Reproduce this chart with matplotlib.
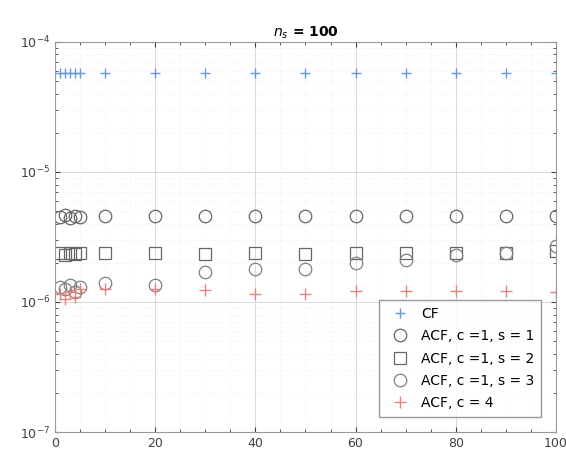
import numpy as np
import matplotlib
matplotlib.use("Agg")
import matplotlib.pyplot as plt
from matplotlib.ticker import MultipleLocator, LogLocator

# sample sizes
x = [1, 2, 3, 4, 5, 10, 20, 30, 40, 50, 60, 70, 80, 90, 100]

cf = [5.8e-5, 5.8e-5, 5.8e-5, 5.8e-5, 5.8e-5, 5.8e-5, 5.8e-5, 5.8e-5,
      5.8e-5, 5.8e-5, 5.8e-5, 5.8e-5, 5.8e-5, 5.8e-5, 5.8e-5]
acf_s1 = [4.5e-6, 4.7e-6, 4.4e-6, 4.6e-6, 4.5e-6, 4.6e-6, 4.6e-6, 4.6e-6,
          4.6e-6, 4.6e-6, 4.6e-6, 4.6e-6, 4.6e-6, 4.6e-6, 4.6e-6]
acf_s2 = [2.4e-6, 2.3e-6, 2.4e-6, 2.35e-6, 2.4e-6, 2.4e-6, 2.4e-6, 2.35e-6,
          2.4e-6, 2.35e-6, 2.4e-6, 2.4e-6, 2.4e-6, 2.4e-6, 2.45e-6]
acf_s3 = [1.3e-6, 1.25e-6, 1.35e-6, 1.2e-6, 1.3e-6, 1.4e-6, 1.35e-6, 1.7e-6,
          1.8e-6, 1.8e-6, 2.0e-6, 2.1e-6, 2.3e-6, 2.4e-6, 2.7e-6]
acf_c4 = [1.15e-6, 1.05e-6, 1.2e-6, 1.1e-6, 1.25e-6, 1.25e-6, 1.25e-6, 1.24e-6,
          1.15e-6, 1.15e-6, 1.22e-6, 1.22e-6, 1.22e-6, 1.22e-6, 1.2e-6]

labels = ["CF", "ACF, c =1, s = 1", "ACF, c =1, s = 2",
          "ACF, c =1, s = 3", "ACF, c = 4"]

fig = plt.figure(figsize=(5.66, 4.59), dpi=100)
ax = fig.add_axes([0.0972, 0.0588, 0.885, 0.85])

ax.plot(x, cf, "+", color=(0.4, 0.6, 0.85), ms=7, mew=1.0, ls="none", label=labels[0])
ax.plot(x, acf_s1, "o", mfc="none", mec="0.4", ms=9, mew=0.9, ls="none", label=labels[1])
ax.plot(x, acf_s2, "s", mfc="none", mec="0.4", ms=8, mew=0.9, ls="none", label=labels[2])
ax.plot(x, acf_s3, "o", mfc="none", mec="0.5", ms=9, mew=0.9, ls="none", label=labels[3])
ax.plot(x, acf_c4, "+", color=(0.92, 0.5, 0.5), ms=8, mew=1.0, ls="none", label=labels[4])

ax.set_yscale("log")
ax.set_xlim(0, 100)
ax.set_ylim(1e-7, 1e-4)
ax.xaxis.set_major_locator(MultipleLocator(20))
ax.xaxis.set_minor_locator(MultipleLocator(5))
ax.yaxis.set_major_locator(LogLocator(base=10, numticks=10))
ax.yaxis.set_minor_locator(LogLocator(base=10, subs=np.arange(2, 10), numticks=10))

ax.grid(True, which="major", color="0.85", lw=0.7)
ax.grid(True, which="minor", color="0.92", lw=0.5, ls=":")
ax.tick_params(which="both", direction="in", top=True, right=True, labelsize=9, colors="0.25")
ax.tick_params(which="minor", length=2)
for s in ax.spines.values():
    s.set_color("0.6")

ax.set_title("$n_s$ = 100", fontsize=10, fontweight="bold", pad=4)
leg = ax.legend(loc="lower right", fontsize=10, frameon=True, fancybox=False,
                edgecolor="0.5", borderpad=0.5, labelspacing=0.6,
                handletextpad=0.5, bbox_to_anchor=(0.985, 0.02))

fig.savefig("out.png", dpi=100)
